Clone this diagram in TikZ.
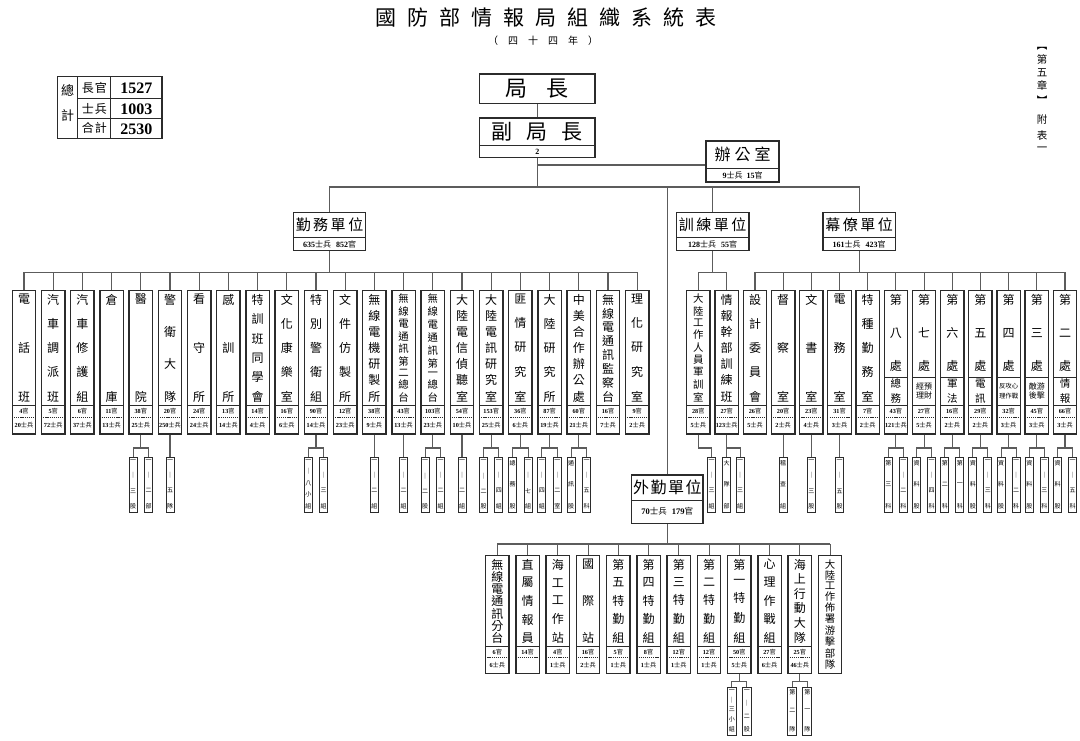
\documentclass[tikz,border=0pt]{standalone}
\usepackage{fontspec}
\setmainfont{Liberation Serif}
\newfontfamily\cjk{Noto Sans CJK TC}
\usetikzlibrary{calc}
\definecolor{lnc}{HTML}{5C5C5C}
\definecolor{bxc}{HTML}{2B2B2B}
% vertical stack of characters, evenly spread over a given height
\newcommand\vstack[2]{\edef\vtmp{#2}\vbox to #1{\offinterlineskip\expandafter\vtfirst\vtmp\relax}}
\def\vtfirst#1{\hbox to 0pt{\hss#1\hss}\vtrest}
\def\vtrest#1{\ifx#1\relax\else\vfill\hbox to 0pt{\hss#1\hss}\expandafter\vtrest\fi}
% count characters
\newcount\ccnt
\def\countchars#1{\ccnt=0 \edef\cctmp{#1}\expandafter\ccloop\cctmp\relax}
\def\ccloop#1{\ifx#1\relax\else\advance\ccnt by 1 \expandafter\ccloop\fi}
% letter-spaced horizontal text
\newcommand\hsp[2]{\def\spgap{#1}\edef\sptmp{#2}\expandafter\spfirst\sptmp\relax}
\def\spfirst#1{#1\sprest}
\def\sprest#1{\ifx#1\relax\else\hspace{\spgap}#1\expandafter\sprest\fi}
\newcommand\namefont{\fontsize{12}{12}\selectfont\cjk}
\newcommand\smallnamefont{\fontsize{10.4}{10.4}\selectfont\cjk}
\newcommand\subfont{\fontsize{6}{6}\selectfont\cjk}
\newcommand\labfont{\fontsize{6.2}{6.2}\selectfont}
\newcommand\numlab[2]{\edef\nltmp{#1}\ifx\nltmp\empty\else{\bfseries\nltmp}{\cjk #2}\fi}
\newcommand\ct[2]{{\bfseries #1}{\cjk #2}}
% standard unit box: name, cx, top, split, dash, bottom, chars, officers, soldiers
\newcommand\stdbox[9]{%
 \node[ubox, minimum height={#6-#3}, anchor=north] (#1) at (#2,#3) {};
 \draw[inl] ({#2-11.7},#4) -- ({#2+11.7},#4);
 \draw[dsh] ({#2-10},#5) -- ({#2+10},#5);
 \pgfmathsetmacro\nmh{#4-#3-8}%
 \countchars{#7}%
 \ifnum\ccnt>8 \def\nmf{\smallnamefont}\else\def\nmf{\namefont}\fi
 \node[txt, anchor=north, font=\nmf] (#1-t) at (#2,{#3+4}) {\vstack{\nmh pt}{#7}};
 \node[txt, font=\labfont] (#1-g) at (#2,{(#4+#5)/2}) {\numlab{#8}{官}};
 \node[txt, font=\labfont] (#1-b) at (#2,{(#5+#6)/2}) {\numlab{#9}{士兵}};
}
% section box (第X處): name, cx, chars, font, subtitle, officers, soldiers
\newcommand\chubox[7]{%
 \node[ubox, minimum height=143.3, anchor=north] (#1) at (#2,290) {};
 \draw[inl] ({#2-11.7},377) -- ({#2+11.7},377);
 \draw[inl] ({#2-11.7},405) -- ({#2+11.7},405);
 \draw[dsh] ({#2-10},417.3) -- ({#2+10},417.3);
 \node[txt, anchor=north, font=\namefont] (#1-t) at (#2,294.5) {\vstack{76pt}{#3}};
 \node[txt, align=center, font=#4] (#1-u) at (#2,391) {#5};
 \node[txt, font=\labfont] (#1-g) at (#2,411.15) {\numlab{#6}{官}};
 \node[txt, font=\labfont] (#1-b) at (#2,425.3) {\numlab{#7}{士兵}};
}
\newcommand\vsub[1]{\fontsize{10.5}{10.5}\selectfont\cjk\vstack{23pt}{#1}}
% sub box
\newcommand\sbx[6]{%
 \node[sbox, minimum width=#6, minimum height={#4-#3}, anchor=north] (#1) at (#2,#3) {};
 \pgfmathsetmacro\sbh{#4-#3-7}%
 \node[txt, anchor=north, font=\subfont] (#1-t) at (#2,{#3+3}) {\vstack{\sbh pt}{#5}};
}
\newcommand\subone[3]{%
 \sbx{#1s1}{#2}{\sT}{\sB}{#3}{\sW}
 \coordinate (tmpJ) at (0,\sJ);
 \draw[conn] (#1.south) -- (#1.south |- tmpJ) -| (#1s1.north);
}
\newcommand\subtwo[5]{%
 \sbx{#1s1}{#2}{\sT}{\sB}{#3}{\sW}
 \sbx{#1s2}{#4}{\sT}{\sB}{#5}{\sW}
 \coordinate (tmpJ) at (0,\sJ);
 \draw[conn] (#1.south) -- (#1.south |- tmpJ);
 \draw[conn] (#1s1.north) -- (#1s1.north |- tmpJ) -- (#1s2.north |- tmpJ) -- (#1s2.north);
}
\begin{document}
\begin{tikzpicture}[x=1pt,y=-1pt,
 conn/.style={draw=lnc, line width=1.1pt},
 ubox/.style={draw=bxc, line width=1.3pt, rectangle, inner sep=0pt, minimum width=23.4pt},
 sbox/.style={draw=bxc, line width=0.9pt, rectangle, inner sep=0pt},
 bigbox/.style={draw=bxc, line width=1.5pt, rectangle, inner sep=0pt},
 inl/.style={draw=bxc, line width=0.8pt},
 dsh/.style={draw=bxc, line width=0.5pt, dash pattern=on 1.2pt off 0.9pt},
 txt/.style={inner sep=0pt, outer sep=0pt},
 tbl/.style={draw=bxc, line width=1.1pt}]
\fill[white] (0,0) rectangle (1080,740);
\useasboundingbox (0,0) rectangle (1080,740);

% title
\node[txt, font=\fontsize{21}{21}\selectfont\cjk] (title) at (546,17.2) {\hsp{11pt}{國防部情報局組織系統表}};
\node[txt, font=\fontsize{10}{10}\selectfont\cjk] (subtitle) at (543,41) {\hsp{10pt}{（四十四年）}};
\node[txt, anchor=north, font=\fontsize{10.5}{10.5}\selectfont\cjk] (side1) at (1042,47) {\vstack{57pt}{︻第五章︼}};
\node[txt, anchor=north, font=\fontsize{10.5}{10.5}\selectfont\cjk] (side2) at (1042,115) {\vstack{36pt}{附表一}};

% totals table
\draw[tbl] (57.5,76.4) rectangle (162,138.4);
\draw[tbl] (77.8,76.4) -- (77.8,138.4);
\draw[tbl] (110.9,76.4) -- (110.9,138.4);
\draw[tbl] (77.8,98.8) -- (162,98.8);
\draw[tbl] (77.8,118.5) -- (162,118.5);
\node[txt, font=\fontsize{13}{13}\selectfont\cjk] (tz) at (67.6,90) {總};
\node[txt, font=\fontsize{13}{13}\selectfont\cjk] (tj) at (67.6,116) {計};
\node[txt, font=\fontsize{12}{12}\selectfont\cjk] (t1) at (94.3,87.6) {\hsp{1pt}{長官}};
\node[txt, font=\fontsize{12}{12}\selectfont\cjk] (t2) at (94.3,108.6) {\hsp{1pt}{士兵}};
\node[txt, font=\fontsize{12}{12}\selectfont\cjk] (t3) at (94.3,128.4) {\hsp{1pt}{合計}};
\node[txt, font=\fontsize{16}{16}\selectfont\bfseries] (n1) at (136.4,88) {1527};
\node[txt, font=\fontsize{16}{16}\selectfont\bfseries] (n2) at (136.4,109) {1003};
\node[txt, font=\fontsize{16}{16}\selectfont\bfseries] (n3) at (136.4,128.8) {2530};

% top boxes
\node[bigbox, minimum width=115.3, minimum height=29.3, font=\fontsize{22}{22}\selectfont\cjk] (ju) at (537.35,88.65) {\hsp{19pt}{局長}};
\node[bigbox, minimum width=115.3, minimum height=39.7] (fu) at (537.35,137.85) {};
\draw[inl] (479.7,145.7) -- (595,145.7);
\node[txt, font=\fontsize{21}{21}\selectfont\cjk] (fu-t) at (537.35,131.8) {\hsp{14pt}{副局長}};
\node[txt, font=\fontsize{8}{8}\selectfont\bfseries] (fu-n) at (537.35,151.7) {2};

\node[bigbox, minimum width=73, minimum height=40.6] (ban) at (742.5,161.5) {};
\draw[inl] (706,168) -- (779,168);
\node[txt, font=\fontsize{16}{16}\selectfont\cjk] (ban-t) at (742.5,154.6) {\hsp{4pt}{辦公室}};
\node[txt, font=\fontsize{8}{8}\selectfont] (ban-n) at (742.5,175) {\ct{9}{士兵}\hspace{4pt}\ct{15}{官}};

% second level
\node[bigbox, minimum width=72.4, minimum height=38.4] (qw) at (329.5,231.5) {};
\draw[inl] (293.3,237) -- (365.7,237);
\node[txt, font=\fontsize{15}{15}\selectfont\cjk] (qw-t) at (329.5,224.6) {\hsp{2.5pt}{勤務單位}};
\node[txt, font=\fontsize{8}{8}\selectfont] (qw-n) at (329.5,244) {\ct{635}{士兵}\hspace{5pt}\ct{852}{官}};

\node[bigbox, minimum width=72.4, minimum height=38.4] (xl) at (712.65,231.5) {};
\draw[inl] (676.45,237) -- (748.85,237);
\node[txt, font=\fontsize{15}{15}\selectfont\cjk] (xl-t) at (712.65,224.6) {\hsp{2.5pt}{訓練單位}};
\node[txt, font=\fontsize{8}{8}\selectfont] (xl-n) at (712.65,244) {\ct{128}{士兵}\hspace{5pt}\ct{55}{官}};

\node[bigbox, minimum width=72.4, minimum height=38.4] (ml) at (859.2,231.5) {};
\draw[inl] (823,237) -- (895.4,237);
\node[txt, font=\fontsize{15}{15}\selectfont\cjk] (ml-t) at (859.2,224.6) {\hsp{2.5pt}{幕僚單位}};
\node[txt, font=\fontsize{8}{8}\selectfont] (ml-n) at (859.2,244) {\ct{161}{士兵}\hspace{5pt}\ct{423}{官}};

\node[bigbox, minimum width=71.3, minimum height=48.3] (wq) at (667.35,499.15) {};
\draw[inl] (631.7,500) -- (703,500);
\node[txt, font=\fontsize{16}{16}\selectfont\cjk] (wq-t) at (667.35,487.5) {\hsp{1.5pt}{外勤單位}};
\node[txt, font=\fontsize{8.5}{8.5}\selectfont] (wq-n) at (667.35,511.7) {\ct{70}{士兵}\hspace{5pt}\ct{179}{官}};

% main connectors
\coordinate (mainbus) at (0,187);
\coordinate (banj) at (0,165);
\draw[conn] (ju.south) -- (fu.north);
\draw[conn] (fu.south) -- (fu.south |- mainbus);
\draw[conn] (fu.south |- banj) -- (ban.west |- banj);
\draw[conn] (qw.north) -- (qw.north |- mainbus) -- (ml.north |- mainbus) -- (ml.north);
\draw[conn] (xl.north) -- (xl.north |- mainbus);
\draw[conn] (wq.north) -- (wq.north |- mainbus);

% 勤務單位 children
\coordinate (qbus) at (0,272.3);
\foreach \ch/\g/\b [count=\i from 0] in {電話班/4/20, 汽車調派班/5/72, 汽車修護組/6/37, 倉庫/11/13, 醫院/38/25, 警衛大隊/20/250, 看守所/24/24, 感訓所/13/14, 特訓班同學會/14/4, 文化康樂室/16/6, 特別警衛組/90/14, 文件仿製所/12/23, 無線電機研製所/38/9, 無線電通訊第二總台/43/13, 無線電通訊第一總台/103/23, 大陸電信偵聽室/54/10, 大陸電訊研究室/153/25, 匪情研究室/36/6, 大陸研究所/87/19, 中美合作辦公處/60/21, 無線電通訊監察台/16/7, 理化研究室/9/2}
{
 \pgfmathsetmacro\cx{24+29.2*\i}
 \stdbox{q\i}{\cx}{290}{405}{417.3}{433.3}{\ch}{\g}{\b}
 \draw[conn] (q\i.north) -- (q\i.north |- qbus);
}
\draw[conn] (qw.south) -- (qw.south |- qbus);
\draw[conn] (q0.north |- qbus) -- (q21.north |- qbus);

% 訓練單位 children
\coordinate (xbus) at (0,272.3);
\stdbox{x0}{698.3}{290}{405}{417.3}{433.3}{大陸工作人員軍訓室}{28}{5}
\stdbox{x1}{726.7}{290}{405}{417.3}{433.3}{情報幹部訓練班}{27}{123}
\draw[conn] (xl.south) -- (xl.south |- xbus);
\draw[conn] (x0.north) -- (x0.north |- xbus) -- (x1.north |- xbus) -- (x1.north);

% 幕僚單位 children
\coordinate (mbus) at (0,272.3);
\foreach \ch/\g/\b [count=\i from 0] in {設計委員會/26/5, 督察室/20/2, 文書室/23/4, 電務室/31/3, 特種勤務室/7/2}
{
 \pgfmathsetmacro\cx{755+28.18*\i}
 \stdbox{m\i}{\cx}{290}{405}{417.3}{433.3}{\ch}{\g}{\b}
}
\chubox{m5}{895.9}{第八處}{\vsub{總務}}{}{43}{121}
\chubox{m6}{924.08}{第七處}{\fontsize{8}{9.5}\selectfont\cjk}{經預\\理財}{27}{5}
\chubox{m7}{952.26}{第六處}{\vsub{軍法}}{}{16}{2}
\chubox{m8}{980.44}{第五處}{\vsub{電訊}}{}{29}{2}
\chubox{m9}{1008.62}{第四處}{\fontsize{6.4}{9.5}\selectfont\cjk}{反攻心\\理作戰}{32}{3}
\chubox{m10}{1036.8}{第三處}{\fontsize{8}{9.5}\selectfont\cjk}{敵游\\後擊}{45}{3}
\chubox{m11}{1065}{第二處}{\vsub{情報}}{}{66}{3}
\foreach \i in {0,...,11}{\draw[conn] (m\i.north) -- (m\i.north |- mbus);}
\draw[conn] (ml.south) -- (ml.south |- mbus);
\draw[conn] (m0.north |- mbus) -- (m11.north |- mbus);

% 外勤單位 children
\coordinate (wbus) at (0,544);
\stdbox{w0}{497.3}{555}{646.7}{657.3}{672.7}{無線電通訊分台}{6}{6}
\stdbox{w1}{527.55}{555}{646.7}{657.3}{672.7}{直屬情報員}{14}{}
\stdbox{w2}{557.8}{555}{646.7}{657.3}{672.7}{海工工作站}{4}{1}
\stdbox{w3}{588.05}{555}{646.7}{657.3}{672.7}{國際站}{16}{2}
\stdbox{w4}{618.3}{555}{646.7}{657.3}{672.7}{第五特勤組}{5}{1}
\stdbox{w5}{648.55}{555}{646.7}{657.3}{672.7}{第四特勤組}{8}{1}
\stdbox{w6}{678.8}{555}{646.7}{657.3}{672.7}{第三特勤組}{12}{1}
\stdbox{w7}{709.05}{555}{646.7}{657.3}{672.7}{第二特勤組}{12}{1}
\stdbox{w8}{739.3}{555}{646.7}{657.3}{672.7}{第一特勤組}{50}{5}
\stdbox{w9}{769.55}{555}{646.7}{657.3}{672.7}{心理作戰組}{27}{6}
\stdbox{w10}{799.8}{555}{646.7}{657.3}{672.7}{海上行動大隊}{25}{46}
\node[ubox, minimum height=117.7, anchor=north] (w11) at (830.05,555) {};
\node[txt, anchor=north, font=\smallnamefont] (w11-t) at (830.05,559.5) {\vstack{109pt}{大陸工作佈署游擊部隊}};
\foreach \i in {0,...,11}{\draw[conn] (w\i.north) -- (w\i.north |- wbus);}
\draw[conn] (wq.south) -- (wq.south |- wbus);
\draw[conn] (w0.north |- wbus) -- (w11.north |- wbus);

% sub boxes, upper rows
\def\sT{457}\def\sB{512}\def\sJ{448}\def\sW{8}
\subtwo{q4}{133.1}{一｜三股}{148.5}{一｜二部}
\subone{q5}{170}{一｜五隊}
\subtwo{q10}{308.3}{一｜八小組}{323.7}{一｜三組}
\subone{q12}{374.4}{一｜二組}
\subone{q13}{403.6}{一｜二組}
\subtwo{q14}{425.1}{一｜二股}{440.5}{一｜二組}
\subone{q15}{462}{一｜二組}
\subtwo{q16}{483.5}{一｜二股}{498.9}{一｜四組}
\subtwo{q17}{512.7}{總務股}{528.1}{一｜七組}
\subtwo{q18}{541.9}{一｜四組}{557.3}{一｜二室}
\subtwo{q19}{571.1}{通訊股}{586.5}{一｜五科}
\subone{x0}{711.5}{一｜三組}
\subtwo{x1}{726.7}{大隊部}{740.1}{一｜三組}
\subone{m1}{783.2}{稽查組}
\subone{m2}{811.4}{一｜三股}
\subone{m3}{839.5}{一｜五股}
\subtwo{m5}{888.4}{第三科}{903.4}{一｜二科}
\subtwo{m6}{916.6}{資料股}{931.6}{一｜四科}
\subtwo{m7}{944.8}{第二科}{959.8}{第一科}
\subtwo{m8}{972.9}{資料股}{987.9}{一｜三科}
\subtwo{m9}{1001.1}{資料股}{1016.1}{一｜二科}
\subtwo{m10}{1029.3}{資料股}{1044.3}{一｜三科}
\subtwo{m11}{1057.5}{資料股}{1072.5}{一｜五科}

% sub boxes, 外勤
\def\sT{686.7}\def\sB{735}\def\sJ{681.7}\def\sW{9}
\subtwo{w8}{731.8}{一｜三小組}{746.8}{一｜二股}
\subtwo{w10}{792.3}{第二隊}{807.3}{第一隊}
\end{tikzpicture}
\end{document}
